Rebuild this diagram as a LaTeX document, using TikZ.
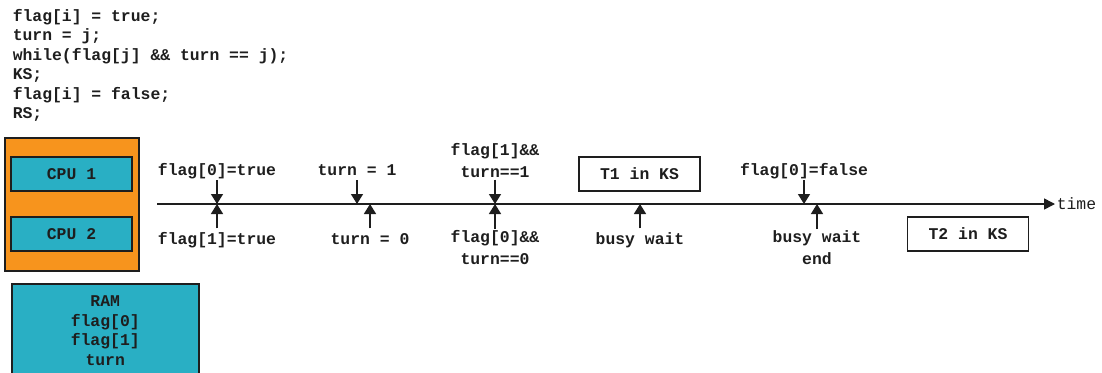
\documentclass[tikz,border=0pt]{standalone}
\usepackage{fontspec}
\setmonofont{Liberation Mono}
\usetikzlibrary{arrows.meta,positioning}

\definecolor{cpuorange}{HTML}{F7941D}
\definecolor{cputeal}{HTML}{29AFC4}
\definecolor{inkgray}{HTML}{1E1E1E}

\begin{document}
\begin{tikzpicture}[x=1pt,y=-1pt,>={Triangle[length=10pt,width=12pt]},line width=1.5pt,draw=inkgray,
    mono/.style={font=\fontsize{16.4}{19.6}\selectfont\ttfamily\bfseries,text=inkgray},
    lbl/.style={mono,inner sep=1pt,text height=14pt,text depth=3.5pt},
    lbltwo/.style={mono,inner sep=1pt,align=center},
    code/.style={lbl,inner sep=0pt,anchor=base west},
    box/.style={lbl,draw=inkgray,minimum width=121pt,minimum height=34pt}]

    \useasboundingbox (0,0) rectangle (1102,372);
    \clip (0,0) rectangle (1102,372);

    % algorithm
    \node[code] (c1) at (12,21) {flag[i] = true;};
    \node[code] (c2) at (12,40.5) {turn = j;};
    \node[code] (c3) at (12,60) {while(flag[j] \&\& turn == j);};
    \node[code] (c4) at (12,79.5) {KS;};
    \node[code] (c5) at (12,99) {flag[i] = false;};
    \node[code] (c6) at (12,118.5) {RS;};

    % hardware
    \node[draw=inkgray,fill=cpuorange,minimum width=134pt,minimum height=133pt,anchor=north west] (cpus) at (4,137) {};
    \node[box,fill=cputeal] (cpu1) at (71.5,174) {CPU 1};
    \node[box,fill=cputeal] (cpu2) at (71.5,234) {CPU 2};
    \node[mono,draw=inkgray,fill=cputeal,align=center,minimum width=187pt,minimum height=94pt,anchor=north west] (ram) at (11,283) {RAM\\flag[0]\\flag[1]\\turn};

    % time line
    \coordinate (tl) at (157,204);
    \node[mono,font=\fontsize{16.4}{19.6}\selectfont\ttfamily,inner sep=1pt,text height=14pt,text depth=3.5pt,anchor=west] (time) at (1055,204) {time};

    \node[lbl] (a) at (217,169.75) {flag[0]=true};
    \node[lbl] (b) at (217,238.75) {flag[1]=true};
    \node[lbl] (c) at (357,169.75) {turn = 1};
    \node[lbl] (d) at (370,238.75) {turn = 0};
    \node[lbltwo,anchor=south] (e) at (495,179.5) {flag[1]\&\&\\[2pt]turn==1};
    \node[lbltwo,anchor=north] (f) at (495,229) {flag[0]\&\&\\[2pt]turn==0};
    \node[box,fill=white] (t1) at (639.5,174) {T1 in KS};
    \node[lbl] (g) at (640,238.75) {busy wait};
    \node[lbl] (h) at (804,169.75) {flag[0]=false};
    \node[lbltwo,anchor=north] (k) at (817,229) {busy wait\\[2pt]end};
    \node[box,fill=white] (t2) at (968,234) {T2 in KS};

    \draw[-{Triangle[length=11pt,width=11pt]}] (tl) -- (time);
    \path[->]
        (a) edge (a |- tl)
        (b) edge (b |- tl)
        (c) edge (c |- tl)
        (d) edge (d |- tl)
        (e) edge (e |- tl)
        (f) edge (f |- tl)
        (g) edge (g |- tl)
        (h) edge (h |- tl)
        (k) edge (k |- tl)
        ;
\end{tikzpicture}
\end{document}
